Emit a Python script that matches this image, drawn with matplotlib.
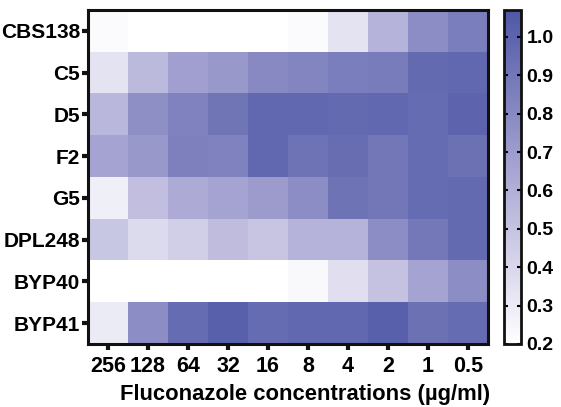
import matplotlib
matplotlib.use("Agg")
import matplotlib.pyplot as plt
import numpy as np
from matplotlib.colors import LinearSegmentedColormap

strains = ["CBS138", "C5", "D5", "F2", "G5", "DPL248", "BYP40", "BYP41"]
concentrations = ["256", "128", "64", "32", "16", "8", "4", "2", "1", "0.5"]

cbs138 = [0.22, 0.20, 0.20, 0.20, 0.20, 0.22, 0.34, 0.58, 0.78, 0.86]
c5     = [0.34, 0.55, 0.68, 0.72, 0.80, 0.82, 0.86, 0.87, 0.97, 0.98]
d5     = [0.56, 0.77, 0.84, 0.91, 0.98, 0.98, 0.97, 0.98, 0.96, 1.00]
f2     = [0.66, 0.72, 0.85, 0.84, 0.98, 0.92, 0.95, 0.90, 0.96, 0.93]
g5     = [0.28, 0.52, 0.62, 0.66, 0.70, 0.78, 0.92, 0.90, 0.96, 0.97]
dpl248 = [0.48, 0.38, 0.44, 0.53, 0.49, 0.58, 0.58, 0.78, 0.89, 0.97]
byp40  = [0.20, 0.20, 0.20, 0.20, 0.20, 0.23, 0.36, 0.50, 0.66, 0.78]
byp41  = [0.30, 0.78, 0.96, 1.02, 0.96, 0.98, 0.98, 1.02, 0.93, 0.96]

data = np.array([cbs138, c5, d5, f2, g5, dpl248, byp40, byp41])

plt.rcParams["font.family"] = ["Liberation Sans", "DejaVu Sans"]
plt.rcParams["font.weight"] = "bold"

cmap = LinearSegmentedColormap.from_list("wb", ["#ffffff", "#aba8d4", "#4f58a6"])
vmin, vmax = 0.2, 1.07

fig = plt.figure(figsize=(5.61, 4.07), dpi=100)
ax = fig.add_axes([88/561, 63/407, 400/561, 334/407])
im = ax.imshow(data, cmap=cmap, vmin=vmin, vmax=vmax, aspect="auto", interpolation="nearest")

ax.set_xticks(np.arange(len(concentrations)))
ax.set_xticklabels(concentrations, fontsize=15.5, fontweight="bold")
ax.set_yticks(np.arange(len(strains)))
ax.set_yticklabels(strains, fontsize=15, fontweight="bold")
ax.tick_params(axis="both", length=4.5, width=3, color="#111111")
ax.tick_params(axis="x", pad=4)
ax.tick_params(axis="y", pad=1)
ax.set_xlabel("Fluconazole concentrations (µg/ml)", fontsize=15.8, fontweight="bold")
ax.xaxis.set_label_coords(0.5425, -0.12)
ax.xaxis.label.set_va("top")
for s in ax.spines.values():
    s.set_linewidth(2.2)
    s.set_color("#111111")

cax = fig.add_axes([504/561, 63/407, 17/561, 334/407])
cb = fig.colorbar(im, cax=cax)
cb.set_ticks([0.2, 0.3, 0.4, 0.5, 0.6, 0.7, 0.8, 0.9, 1.0])
cb.ax.set_yticklabels(["0.2", "0.3", "0.4", "0.5", "0.6", "0.7", "0.8", "0.9", "1.0"], fontsize=14, fontweight="bold")
cb.ax.tick_params(length=3, width=1.5, direction="in", left=True, right=True, pad=4)
cb.outline.set_linewidth(2)
cb.outline.set_edgecolor("#111111")

fig.savefig("out.png", dpi=100)
